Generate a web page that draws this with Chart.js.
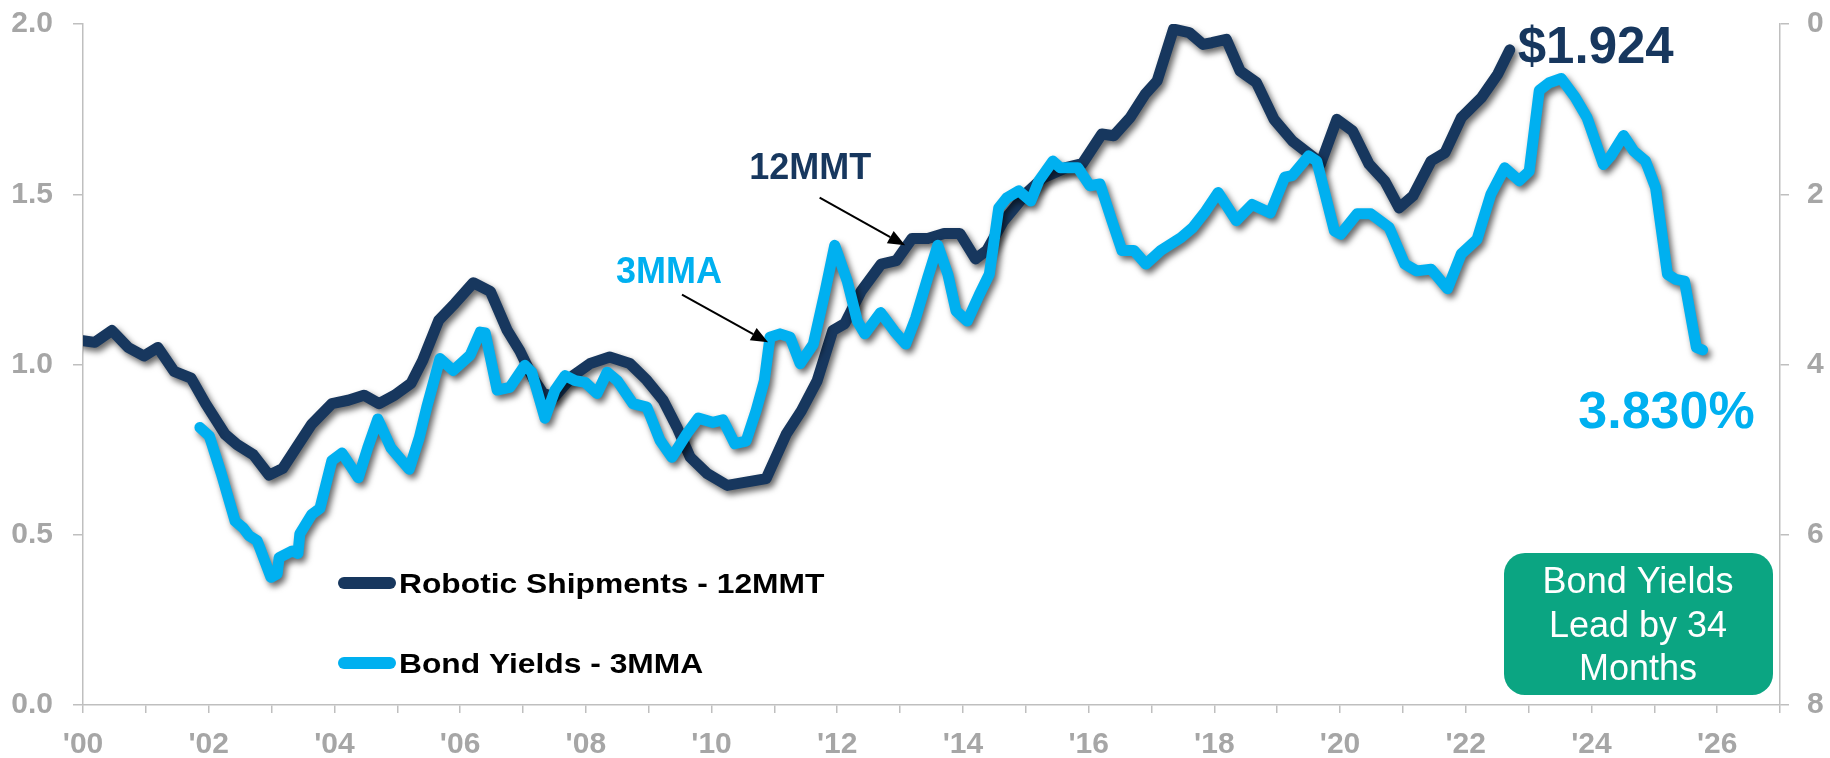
<!DOCTYPE html>
<html>
<head>
<meta charset="utf-8">
<title>Robotic Shipments vs Bond Yields</title>
<script src="https://cdn.jsdelivr.net/npm/chart.js@4.4.1/dist/chart.umd.min.js"></script>
<style>
  html, body { margin: 0; padding: 0; background: #fff; }
  #wrap { width: 1830px; height: 758px; position: relative; }
</style>
</head>
<body>
<div id="wrap"><canvas id="chart"></canvas></div>
<script>
// Robotic shipments, 12 month moving total ($ bn) - plotted dates as year fractions
const roboticDates = [
  2000.00, 2000.19, 2000.46, 2000.72, 2000.97, 2001.19, 2001.45, 2001.72, 2001.95, 2002.26,
  2002.45, 2002.71, 2002.96, 2003.18, 2003.39, 2003.64, 2003.96, 2004.22, 2004.47, 2004.71,
  2004.96, 2005.22, 2005.40, 2005.66, 2005.92, 2006.21, 2006.48, 2006.75, 2006.95, 2007.16,
  2007.32, 2007.50, 2007.80, 2008.07, 2008.38, 2008.70, 2008.97, 2009.23, 2009.45, 2009.66,
  2009.93, 2010.25, 2010.87, 2011.19, 2011.43, 2011.68, 2011.93, 2012.12, 2012.38, 2012.70,
  2012.94, 2013.19, 2013.44, 2013.70, 2013.95, 2014.20, 2014.38, 2014.64, 2015.02, 2015.27,
  2015.64, 2015.90, 2016.21, 2016.40, 2016.66, 2016.90, 2017.09, 2017.35, 2017.60, 2017.82,
  2017.96, 2018.19, 2018.41, 2018.67, 2018.95, 2019.24, 2019.59, 2019.69, 2019.95, 2020.20,
  2020.46, 2020.71, 2020.94, 2021.16, 2021.45, 2021.67, 2021.93, 2022.25, 2022.51, 2022.70
];
const roboticShipments = [
  1.070, 1.065, 1.100, 1.050, 1.025, 1.050, 0.980, 0.960, 0.885, 0.795,
  0.765, 0.735, 0.675, 0.695, 0.755, 0.825, 0.885, 0.895, 0.910, 0.885,
  0.910, 0.945, 1.010, 1.130, 1.180, 1.240, 1.215, 1.100, 1.040, 0.960,
  0.915, 0.905, 0.968, 1.003, 1.022, 1.003, 0.954, 0.895, 0.816, 0.728,
  0.680, 0.645, 0.665, 0.796, 0.864, 0.952, 1.100, 1.120, 1.215, 1.295,
  1.305, 1.370, 1.370, 1.385, 1.385, 1.310, 1.335, 1.420, 1.505, 1.548,
  1.578, 1.590, 1.677, 1.672, 1.725, 1.794, 1.833, 1.985, 1.975, 1.940,
  1.945, 1.955, 1.862, 1.828, 1.720, 1.657, 1.607, 1.589, 1.720, 1.686,
  1.589, 1.539, 1.460, 1.495, 1.598, 1.622, 1.725, 1.784, 1.853, 1.924
];

// Bond yields, 3 month moving average (%), shifted 34 months forward
const yieldDates = [
  2001.86, 2002.01, 2002.20, 2002.42, 2002.55, 2002.64, 2002.77, 2002.99, 2003.09, 2003.12,
  2003.33, 2003.42, 2003.45, 2003.64, 2003.77, 2003.96, 2004.12, 2004.38, 2004.53, 2004.69,
  2004.90, 2005.19, 2005.35, 2005.47, 2005.68, 2005.89, 2006.16, 2006.32, 2006.40, 2006.59,
  2006.79, 2007.03, 2007.14, 2007.35, 2007.51, 2007.67, 2007.83, 2007.99, 2008.18, 2008.34,
  2008.50, 2008.75, 2008.97, 2009.18, 2009.37, 2009.61, 2009.79, 2010.02, 2010.18, 2010.37,
  2010.55, 2010.71, 2010.84, 2010.93, 2011.09, 2011.25, 2011.41, 2011.62, 2011.81, 2011.96,
  2012.16, 2012.32, 2012.44, 2012.69, 2012.91, 2013.09, 2013.25, 2013.44, 2013.60, 2013.76,
  2013.89, 2014.07, 2014.26, 2014.42, 2014.57, 2014.70, 2014.89, 2015.08, 2015.21, 2015.43,
  2015.55, 2015.83, 2016.02, 2016.18, 2016.37, 2016.53, 2016.72, 2016.91, 2017.15, 2017.47,
  2017.66, 2017.86, 2018.06, 2018.35, 2018.60, 2018.89, 2019.12, 2019.24, 2019.50, 2019.63,
  2019.91, 2020.01, 2020.27, 2020.49, 2020.78, 2021.03, 2021.22, 2021.45, 2021.71, 2021.93,
  2022.18, 2022.40, 2022.62, 2022.85, 2023.01, 2023.17, 2023.33, 2023.52, 2023.74, 2023.93,
  2024.19, 2024.31, 2024.51, 2024.67, 2024.86, 2025.02, 2025.21, 2025.34, 2025.48, 2025.67,
  2025.77
];
const bondYields = [
  4.74, 4.84, 5.28, 5.84, 5.92, 6.01, 6.07, 6.50, 6.46, 6.27,
  6.19, 6.22, 5.99, 5.76, 5.69, 5.13, 5.04, 5.33, 4.98, 4.64,
  4.98, 5.23, 4.86, 4.50, 3.93, 4.07, 3.89, 3.62, 3.63, 4.30,
  4.27, 4.01, 4.09, 4.63, 4.30, 4.13, 4.19, 4.21, 4.34, 4.09,
  4.19, 4.46, 4.50, 4.89, 5.09, 4.81, 4.63, 4.68, 4.65, 4.93,
  4.90, 4.54, 4.19, 3.68, 3.64, 3.68, 3.99, 3.76, 3.13, 2.60,
  3.02, 3.49, 3.64, 3.39, 3.61, 3.76, 3.45, 2.98, 2.60, 2.94,
  3.37, 3.49, 3.18, 2.94, 2.16, 2.04, 1.96, 2.08, 1.84, 1.61,
  1.69, 1.69, 1.90, 1.88, 2.31, 2.66, 2.66, 2.82, 2.66, 2.51,
  2.39, 2.20, 1.98, 2.31, 2.12, 2.22, 1.80, 1.78, 1.55, 1.61,
  2.43, 2.47, 2.23, 2.23, 2.39, 2.82, 2.90, 2.88, 3.11, 2.70,
  2.53, 2.00, 1.69, 1.84, 1.73, 0.78, 0.69, 0.64, 0.86, 1.10,
  1.65, 1.55, 1.31, 1.49, 1.61, 1.92, 2.94, 3.00, 3.02, 3.80,
  3.83
];

const seriesNames = ['Robotic Shipments - 12MMT', 'Bond Yields - 3MMA'];
const leadText = ['Bond Yields', 'Lead by 34', 'Months'];

const NAVY = '#17375e';
const SKY = '#00b0f0';
const GREY = '#a6a6a6';
const AXIS = '#bfbfbf';
const FONT = '"Liberation Sans", Arial, Helvetica, sans-serif';

const toPoints = (xs, ys) => xs.map((x, i) => ({ x: x, y: ys[i] }));

// soft drop shadow under both lines
const shadowPlugin = {
  id: 'lineShadow',
  beforeDatasetDraw(chart) {
    const ctx = chart.ctx;
    ctx.save();
    ctx.shadowColor = 'rgba(0,0,0,0.6)';
    ctx.shadowBlur = 6;
    ctx.shadowOffsetX = 3;
    ctx.shadowOffsetY = 4;
  },
  afterDatasetDraw(chart) { chart.ctx.restore(); }
};

function arrow(ctx, x1, y1, x2, y2) {
  const a = Math.atan2(y2 - y1, x2 - x1), L = 17, W = 7;
  ctx.strokeStyle = '#000'; ctx.fillStyle = '#000'; ctx.lineWidth = 2;
  ctx.beginPath(); ctx.moveTo(x1, y1);
  ctx.lineTo(x2 - Math.cos(a) * L, y2 - Math.sin(a) * L); ctx.stroke();
  ctx.beginPath();
  ctx.moveTo(x2, y2);
  ctx.lineTo(x2 - Math.cos(a) * L - Math.sin(a) * W, y2 - Math.sin(a) * L + Math.cos(a) * W);
  ctx.lineTo(x2 - Math.cos(a) * L + Math.sin(a) * W, y2 - Math.sin(a) * L - Math.cos(a) * W);
  ctx.closePath(); ctx.fill();
}

function roundRect(ctx, x, y, w, h, r) {
  ctx.beginPath();
  ctx.moveTo(x + r, y);
  ctx.arcTo(x + w, y, x + w, y + h, r);
  ctx.arcTo(x + w, y + h, x, y + h, r);
  ctx.arcTo(x, y + h, x, y, r);
  ctx.arcTo(x, y, x + w, y, r);
  ctx.closePath();
}

const notesPlugin = {
  id: 'notes',
  afterDraw(chart) {
    const ctx = chart.ctx, xs = chart.scales.x, yl = chart.scales.y, yr = chart.scales.y2;
    ctx.save();

    // in-plot legend (text is a bit wider in the original, so stretch it)
    const legend = [[NAVY, 583], [SKY, 663]];
    legend.forEach(([c, y], i) => {
      ctx.strokeStyle = c; ctx.lineWidth = 12; ctx.lineCap = 'round';
      ctx.beginPath(); ctx.moveTo(344, y); ctx.lineTo(390, y); ctx.stroke();
      ctx.save();
      ctx.fillStyle = '#000'; ctx.font = 'bold 28.5px ' + FONT;
      ctx.textAlign = 'left'; ctx.textBaseline = 'alphabetic';
      ctx.translate(399, y + 10);
      ctx.scale(1.115, 1);
      ctx.fillText(seriesNames[i], 0, 0);
      ctx.restore();
    });

    // callouts
    ctx.lineCap = 'butt';
    ctx.font = 'bold 36px ' + FONT;
    ctx.fillStyle = NAVY;
    ctx.fillText('12MMT', xs.getPixelForValue(2010.6), yl.getPixelForValue(1.545));
    arrow(ctx, xs.getPixelForValue(2011.72), yl.getPixelForValue(1.49),
               xs.getPixelForValue(2013.08), yl.getPixelForValue(1.35));
    ctx.fillStyle = SKY;
    ctx.fillText('3MMA', xs.getPixelForValue(2008.48), yl.getPixelForValue(1.24));
    arrow(ctx, xs.getPixelForValue(2009.53), yl.getPixelForValue(1.205),
               xs.getPixelForValue(2010.9), yl.getPixelForValue(1.065));

    // last values
    const nI = roboticDates.length - 1, bI = yieldDates.length - 1;
    const nx = xs.getPixelForValue(roboticDates[nI]), ny = yl.getPixelForValue(roboticShipments[nI]);
    ctx.font = 'bold 51px ' + FONT; ctx.fillStyle = NAVY; ctx.textAlign = 'left';
    ctx.fillText('$' + roboticShipments[nI].toFixed(3), nx + 8, ny + 13);
    const bx = xs.getPixelForValue(yieldDates[bI]), by = yr.getPixelForValue(bondYields[bI]);
    ctx.font = 'bold 52px ' + FONT; ctx.fillStyle = SKY; ctx.textAlign = 'right';
    ctx.fillText(bondYields[bI].toFixed(3) + '%', bx + 52, by + 78);

    // lead box
    ctx.fillStyle = '#0ba582';
    roundRect(ctx, 1504, 553, 269, 142, 21); ctx.fill();
    ctx.fillStyle = '#fff'; ctx.font = '36px ' + FONT; ctx.textAlign = 'center';
    leadText.forEach((t, i) => ctx.fillText(t, 1638, 593 + i * 43.5));

    ctx.restore();
  }
};

const tickFont = { family: FONT, size: 30, weight: 'bold' };

// fixed axis sizes, no extra label padding around the plot
function fixSize(w, h) {
  return s => {
    if (w) s.width = w;
    if (h) s.height = h;
    s.paddingTop = 0; s.paddingBottom = 0; s.paddingLeft = 0; s.paddingRight = 0;
  };
}

new Chart(document.getElementById('chart'), {
  type: 'line',
  data: {
    datasets: [
      {
        label: seriesNames[1], data: toPoints(yieldDates, bondYields), yAxisID: 'y2', order: 0,
        borderColor: SKY, borderWidth: 11, pointRadius: 0, tension: 0,
        borderJoinStyle: 'round', borderCapStyle: 'round'
      },
      {
        label: seriesNames[0], data: toPoints(roboticDates, roboticShipments), yAxisID: 'y', order: 1,
        borderColor: NAVY, borderWidth: 11, pointRadius: 0, tension: 0,
        borderJoinStyle: 'round', borderCapStyle: 'round'
      }
    ]
  },
  options: {
    responsive: true,
    maintainAspectRatio: false,
    animation: false,
    devicePixelRatio: 1,
    layout: { padding: { top: 24, bottom: 0, left: 0, right: 0 } },
    plugins: { legend: { display: false }, tooltip: { enabled: false } },
    scales: {
      x: {
        type: 'linear', min: 2000, max: 2027,
        afterFit: fixSize(0, 53),
        border: { color: AXIS, width: 1.5 },
        grid: { drawOnChartArea: false, tickLength: 8, color: AXIS, lineWidth: 1.5 },
        ticks: {
          stepSize: 1, autoSkip: false, maxRotation: 0, padding: 14,
          color: GREY, font: tickFont,
          callback: v => (v % 2 === 0 && v < 2027) ? "'" + String(v % 100).padStart(2, '0') : ''
        }
      },
      y: {
        position: 'left', min: 0, max: 2,
        afterFit: fixSize(83, 0),
        border: { color: AXIS, width: 1.5 },
        grid: { drawOnChartArea: false, tickLength: 10, color: AXIS, lineWidth: 1.5 },
        ticks: { stepSize: 0.5, padding: 20, color: GREY, font: tickFont, callback: v => v.toFixed(1) }
      },
      y2: {
        position: 'right', min: 0, max: 8, reverse: true,
        afterFit: fixSize(50, 0),
        border: { color: AXIS, width: 1.5 },
        grid: { drawOnChartArea: false, tickLength: 9, color: AXIS, lineWidth: 1.5 },
        ticks: { stepSize: 2, padding: 18, color: GREY, font: tickFont }
      }
    }
  },
  plugins: [shadowPlugin, notesPlugin]
});
</script>
</body>
</html>
